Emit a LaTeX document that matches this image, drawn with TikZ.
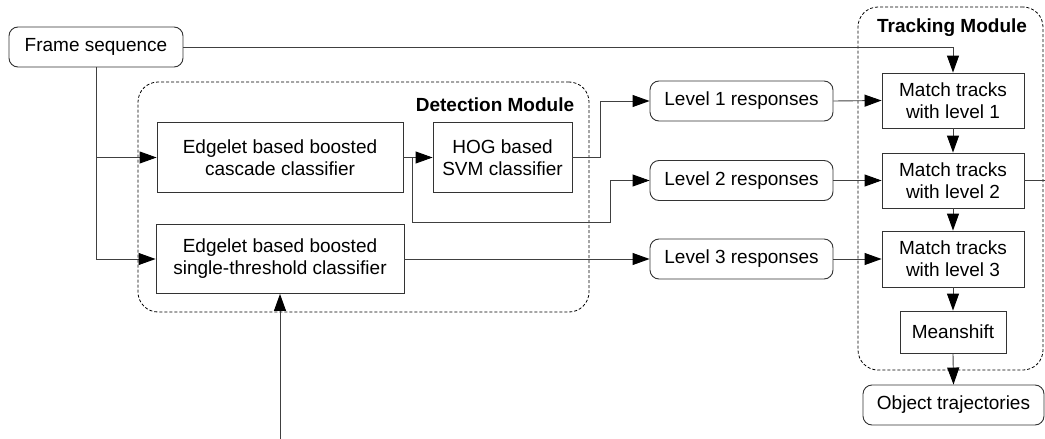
\documentclass[tikz,border=0pt]{standalone}
\usepackage{fontspec}
\setmainfont{Liberation Sans}
\usetikzlibrary{arrows.meta}
\begin{document}
\begin{tikzpicture}[x=1pt,y=-1pt,
  every node/.style={font=\fontsize{19}{22}\selectfont, align=center, inner sep=0pt},
  blk/.style={draw=black!80, line width=0.9pt, fill=white},
  rblk/.style={blk, rounded corners=9pt},
  module/.style={draw=black, line width=0.8pt, dash pattern=on 3pt off 2pt, rounded corners=20pt},
  title/.style={font=\fontsize{19}{22}\selectfont\bfseries},
  conn/.style={draw=black!75, line width=0.9pt},
  arr/.style={conn, -{Triangle[length=17pt,width=12pt,color=black]}}]

\useasboundingbox (0,0) rectangle (1045,439);

% module frames
\node[module, minimum width=451pt, minimum height=230pt] (det) at (363.5,197) {};
\node[module, minimum width=185pt, minimum height=363pt] (trk) at (950.5,188.5) {};
\node[title] (dettitle) at (495,105) {Detection Module};
\node[title] (trktitle) at (952,28) {Tracking Module};

% blocks
\node[rblk, minimum width=174pt, minimum height=40pt] (frame) at (96,47) {Frame sequence};
\node[blk, minimum width=246pt, minimum height=70pt] (casc) at (280,157.5) {Edgelet based boosted\\cascade classifier};
\node[blk, minimum width=139pt, minimum height=70pt] (hog) at (502.5,157.5) {HOG based\\SVM classifier};
\node[blk, minimum width=248pt, minimum height=69pt] (single) at (280,259) {Edgelet based boosted\\single-threshold classifier};

\node[rblk, minimum width=183pt, minimum height=40pt] (lv1) at (741.5,101) {Level 1 responses};
\node[rblk, minimum width=183pt, minimum height=40pt] (lv2) at (741.5,180.5) {Level 2 responses};
\node[rblk, minimum width=183pt, minimum height=40pt] (lv3) at (741.5,259) {Level 3 responses};

\node[blk, minimum width=142pt, minimum height=55pt] (m1) at (953,100.5) {Match tracks\\with level 1};
\node[blk, minimum width=142pt, minimum height=55pt] (m2) at (953,180.5) {Match tracks\\with level 2};
\node[blk, minimum width=142pt, minimum height=56pt] (m3) at (953,259) {Match tracks\\with level 3};
\node[blk, minimum width=106pt, minimum height=42pt] (ms) at (953,332) {Meanshift};
\node[rblk, minimum width=181pt, minimum height=40pt] (obj) at (953.5,405) {Object trajectories};

% free ends
\coordinate (in) at (280,439);
\coordinate (out) at (1045,180.5);
\coordinate (cj) at (412,157.5);

% connectors
\draw[arr] (frame.east) -| (m1.north);
\draw[conn] (frame.south) -- (frame.south |- single.west);
\draw[arr] (frame.south |- casc.west) -- (casc.west);
\draw[arr] (frame.south |- single.west) -- (single.west);
\draw[arr] (casc.east) -- (hog.west);
\draw[arr] (cj) -- ++(0,64.5) -| ([xshift=-39pt]lv2.west) -- (lv2.west);
\draw[arr] (hog.east) -- ++(28,0) |- (lv1.west);
\draw[arr] (single.east) -- (lv3.west);
\draw[arr] (in) -- (single.south);

\draw[arr] (lv1.east) -- (m1.west);
\draw[arr] (lv2.east) -- (m2.west);
\draw[arr] (lv3.east) -- (m3.west);
\draw[arr] (m1.south) -- (m2.north);
\draw[arr] (m2.south) -- (m3.north);
\draw[arr] (m3.south) -- (ms.north);
\draw[arr] (ms.south) -- (obj.north);
\draw[conn] (m2.east) -- (out);
\end{tikzpicture}
\end{document}
